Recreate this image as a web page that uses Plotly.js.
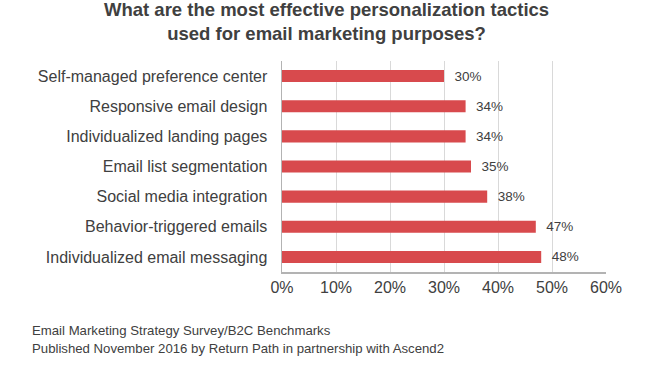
<!DOCTYPE html>
<html>
<head>
<meta charset="utf-8">
<script src="https://cdn.plot.ly/plotly-3.0.1.min.js"></script>
<style>html,body{margin:0;padding:0;background:#fff;}#chart{width:652px;height:369px;}</style>
</head>
<body>
<div id="chart"></div>
<script>
const categories = [
  "Self-managed preference center",
  "Responsive email design",
  "Individualized landing pages",
  "Email list segmentation",
  "Social media integration",
  "Behavior-triggered emails",
  "Individualized email messaging"
];
const values = [30, 34, 34, 35, 38, 47, 48];
const tickVals = [0, 10, 20, 30, 40, 50, 60];
const tickLabels = ["0%", "10%", "20%", "30%", "40%", "50%", "60%"];
const titleText = "What are the most effective personalization tactics<br>used for email marketing purposes?";
const sourceLines = ["Email Marketing Strategy Survey/B2C Benchmarks", "Published November 2016 by Return Path in partnership with Ascend2"];

const font = "Arial, 'Liberation Sans', sans-serif";
const textColor = "#404040";

const W = 652, H = 369, ML = 282, MR = 45.5, MT = 61, MB = 97;
const PW = W - ML - MR, PH = H - MT - MB;
const px = x => (x - ML) / PW;
const py = y => (H - MB - y) / PH;

const trace = {
  type: "bar",
  orientation: "h",
  y: categories,
  x: values,
  width: 0.4,
  marker: {color: "#d84a4d"},
  text: values.map(v => "\u00a0\u00a0" + v + "%"),
  textposition: "outside",
  constraintext: "none",
  cliponaxis: false,
  textfont: {family: font, size: 13.5, color: textColor},
  hoverinfo: "skip"
};

const annotations = [{
  text: "<b>" + titleText + "</b>",
  xref: "paper", yref: "paper",
  x: px(327), y: py(22),
  xanchor: "center", yanchor: "middle", showarrow: false,
  font: {family: font, size: 18.5, color: textColor}
}].concat(sourceLines.map((t, i) => ({
  text: t, xref: "paper", yref: "paper",
  x: px(29.5), y: py(330 + i * 18),
  xanchor: "left", yanchor: "middle", showarrow: false,
  font: {family: font, size: 13.2, color: textColor}
})));

const layout = {
  width: W, height: H,
  margin: {l: ML, r: MR, t: MT, b: MB},
  paper_bgcolor: "#fff", plot_bgcolor: "#fff",
  showlegend: false,
  xaxis: {
    range: [0, 60],
    tickvals: tickVals,
    ticktext: tickLabels,
    showgrid: true, gridcolor: "#d9d9d9", gridwidth: 1,
    zeroline: false,
    showline: true, linecolor: "#b3b3b3", linewidth: 1.5,
    ticks: "",
    tickfont: {family: font, size: 16, color: textColor},
    fixedrange: true
  },
  yaxis: {
    autorange: "reversed",
    showline: true, linecolor: "#b3b3b3", linewidth: 1.5,
    showgrid: false, zeroline: false,
    ticks: "", ticklabelstandoff: 10,
    tickfont: {family: font, size: 16, color: textColor},
    fixedrange: true
  },
  annotations: annotations
};

Plotly.newPlot("chart", [trace], layout, {displayModeBar: false, staticPlot: true});
</script>
</body>
</html>
